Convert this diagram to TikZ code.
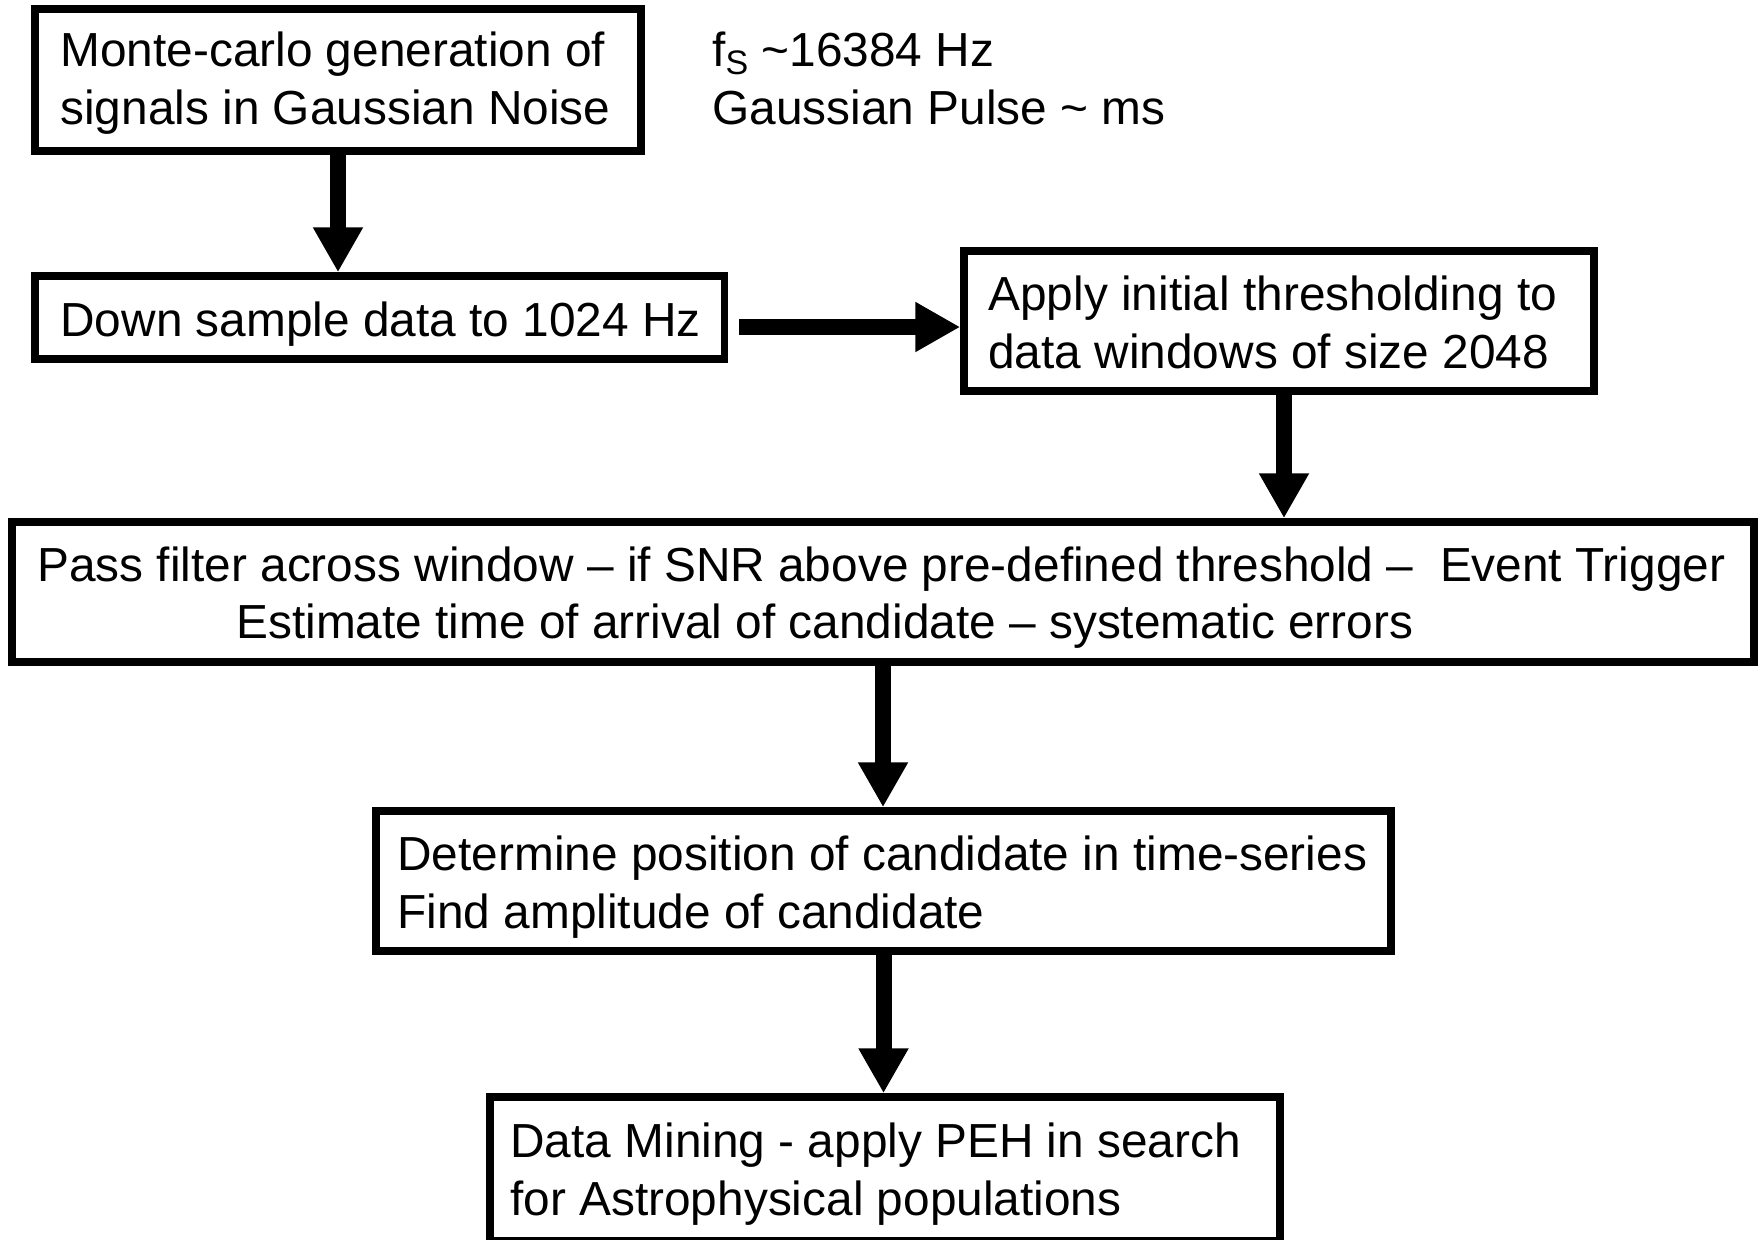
\documentclass[tikz,border=0pt]{standalone}
\usepackage{fontspec}
\setmainfont{Liberation Sans}
\usetikzlibrary{arrows.meta}
\begin{document}
\begin{tikzpicture}[x=0.5pt,y=-0.5pt,
  txt/.style={font=\fontsize{23.9pt}{28.75pt}\selectfont, inner sep=0pt, anchor=base west},
  box/.style={draw=black, line width=3.75pt, rectangle, inner sep=0pt, anchor=center},
  flow/.style={line width=8pt, -{Triangle[length=22.5pt,width=23.5pt]}}]
\fill[white] (0,0) rectangle (1764,1239);
\useasboundingbox (0,0) rectangle (1764,1239);

% process boxes
\node[box, minimum width=303pt,    minimum height=71pt]   (b1) at (338,80) {};
\node[box, minimum width=344.75pt, minimum height=41.5pt] (b2) at (379.75,317.5) {};
\node[box, minimum width=315pt,    minimum height=70pt]   (b3) at (1279,321) {};
\node[box, minimum width=871pt,    minimum height=70pt]   (b4) at (883,592) {};
\node[box, minimum width=507.5pt,  minimum height=70pt]   (b5) at (883.5,881) {};
\node[box, minimum width=395pt,    minimum height=72pt]   (b6) at (885,1169) {};

% box texts, one node per printed line (base line positions)
\node[txt] (t1a) at (60,66.5)   {Monte-carlo generation of};
\node[txt] (t1b) at (60,124)    {signals in Gaussian Noise};
\node[txt] (t2a) at (60,336.5)  {Down sample data to 1024 Hz};
\node[txt] (t3a) at (988,310.5) {Apply initial thresholding to};
\node[txt] (t3b) at (988,368)   {data windows of size 2048};
\node[txt] (t4a) at (37,581.5)  {Pass filter across window – if SNR above pre-defined threshold –\ \ Event Trigger};
\node[txt] (t4b) at (236,638.5) {Estimate time of arrival of candidate – systematic errors};
\node[txt] (t5a) at (397,870.5) {Determine position of candidate in time-series};
\node[txt] (t5b) at (397,928)   {Find amplitude of candidate};
\node[txt] (t6a) at (510,1157.5){Data Mining - apply PEH in search};
\node[txt] (t6b) at (510,1215)  {for Astrophysical populations};

% sampling note
\node[txt] (n1a) at (712,66.5)
  {f\raisebox{-0.3ex}{\fontsize{17pt}{17pt}\selectfont S} \textasciitilde16384 Hz};
\node[txt] (n1b) at (712,124) {Gaussian Pulse \textasciitilde{} ms};

% connectors
\draw[flow] (b1.south) -- (b1.south |- b2.north);
\coordinate (h0) at (739,327);
\draw[flow] (h0) -- (h0 -| b3.west);
\draw[flow] ([xshift=2.5pt]b3.south) -- ([xshift=2.5pt]b3.south |- b4.north);
\draw[flow] (b4.south) -- (b4.south |- b5.north);
\draw[flow] (b5.south) -- (b5.south |- b6.north);
\end{tikzpicture}
\end{document}
